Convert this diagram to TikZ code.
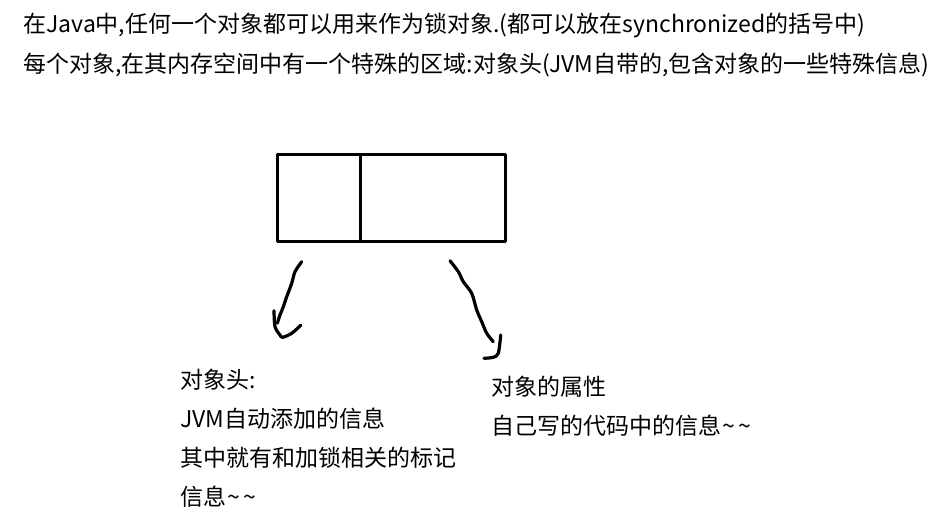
\documentclass[tikz,border=0pt]{standalone}
\usepackage{fontspec}
\newfontfamily\cjk{Noto Sans CJK SC}
\newcommand{\twotilde}{\kern1pt\textasciitilde\kern2pt\textasciitilde}

\begin{document}
\begin{tikzpicture}[x=0.75pt, y=-0.75pt, line join=round, line cap=round,
  txt/.style={anchor=base west, inner sep=0, font=\cjk\fontsize{17.25}{20}\selectfont},
  cell/.style={draw, line width=2.25pt, inner sep=0, outer sep=0, minimum height=65.25pt},
  pen/.style={line width=2.4pt}]
\useasboundingbox (0,0) rectangle (946,527);

% the two lines on top
\foreach \t/\yy [count=\i] in {
  {在Java中,任何一个对象都可以用来作为锁对象.(都可以放在synchronized的括号中)}/33,
  {每个对象,在其内存空间中有一个特殊的区域:对象头(JVM自带的,包含对象的一些特殊信息)}/73}{
\node[txt] (intro\i) at (23,\yy) {\t};
}

% the object: header | fields
\node[cell, minimum width=61.875pt] (head) at (318.75,198.5) {};
\node[cell, minimum width=108.75pt, anchor=west] (body) at (head.east) {};

% hand drawn arrows
\coordinate (headtip) at (282.7,337.3);
\coordinate (bodytip) at (493.3,357.3);
\draw[pen] plot[smooth] coordinates {(301.7,261.7) (295,271.7) (291.7,283.3) (286.7,296.7) (283.3,306.7) (280,315) (277.3,323.3)};
\draw[pen] plot[smooth] coordinates {(274,310.7) (275,326.7) (280,335) (headtip) (291.7,333.3) (300.7,325.3)};
\draw[pen] plot[smooth] coordinates {(450,260.7) (458.3,271.7) (463.3,281.7) (471.7,293.3) (476.7,310) (481.7,321.7) (486.7,333.3) (493.3,341.7)};
\draw[pen] plot[smooth] coordinates {(500.7,335) (498.3,353.3) (bodytip) (484,358.3)};

% what is in the header
\foreach \t/\yy [count=\i] in {
  {对象头:}/388, {JVM自动添加的信息}/427, {其中就有和加锁相关的标记}/466, {信息\twotilde}/505}{
\node[txt] (headtxt\i) at (180,\yy) {\t};
}

% what is in the fields
\foreach \t/\yy [count=\i] in {
  {对象的属性}/395, {自己写的代码中的信息\twotilde}/434}{
\node[txt] (bodytxt\i) at (491,\yy) {\t};
}
\end{tikzpicture}
\end{document}
